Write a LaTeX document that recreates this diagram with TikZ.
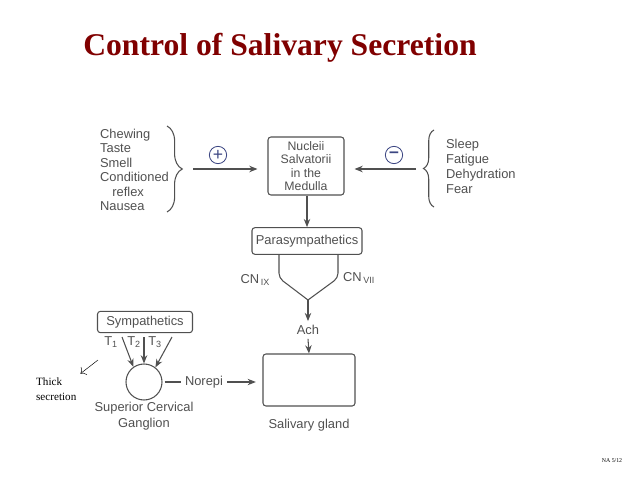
\documentclass[tikz,border=0pt]{standalone}
\usepackage{fontspec}
\setmainfont{Liberation Sans}
\newfontfamily\timesfont{Liberation Serif}
\usetikzlibrary{arrows.meta,decorations.pathreplacing,positioning}
\definecolor{scan}{RGB}{80,80,80}
\definecolor{titlered}{RGB}{128,0,0}
\definecolor{signblue}{RGB}{60,70,130}

\begin{document}
\begin{tikzpicture}[x=0.03cm, y=-0.03cm,
  every node/.style={font=\fontsize{11}{12.4}\selectfont, text=scan},
  box/.style={draw=scan, line width=0.9pt, rounded corners=2.5pt, align=center, inner sep=0pt},
  link/.style={draw=scan, line width=0.9pt, -{Stealth[length=7pt,width=5.5pt]}},
  sign/.style={draw=signblue, line width=0.7pt, circle, minimum size=0.52cm, inner sep=0pt, text=signblue, font=\fontsize{15}{15}\selectfont}]
  \useasboundingbox (0,0) rectangle (638,479);

  % title
  \node[font=\timesfont\bfseries\fontsize{27}{32}\selectfont, text=titlered] (title) at (280,48) {Control of Salivary Secretion};

  % stimuli
  \node[align=left, anchor=west] (excite) at (96,170)
    {Chewing\\Taste\\Smell\\Conditioned\\\hspace*{0.95em}reflex\\Nausea};
  \node[align=left, anchor=west, font=\fontsize{11}{12.8}\selectfont] (inhibit) at (442,166)
    {Sleep\\Fatigue\\Dehydration\\Fear};

  \draw[scan, line width=0.9pt, decorate, decoration={brace, amplitude=13pt}] (167,126) -- (167,212);
  \draw[scan, line width=0.9pt, decorate, decoration={brace, amplitude=9pt}] (434,207) -- (434,130);

  \coordinate (lbrace) at (193,169);
  \coordinate (rbrace) at (416,169);

  % nuclei
  \node[box, minimum width=2.28cm, minimum height=1.74cm, font=\fontsize{10.5}{11.6}\selectfont] (nuc) at (306,166)
    {Nucleii\\Salvatorii\\in the\\Medulla};

  \draw[link, shorten >=0.3cm] (lbrace) -- (nuc.west |- lbrace);
  \draw[link, shorten >=0.3cm] (rbrace) -- (nuc.east |- rbrace);

  \node[sign] (plus) at (218,155) {+};
  \node[sign] (minus) at (394,155) {\raisebox{-1pt}{\textbf{--}}};

  % parasympathetic path
  \node[box, minimum width=3.3cm, minimum height=0.8cm, font=\fontsize{11}{12}\selectfont] (para) at (307,241) {Parasympathetics};
  \draw[link] (nuc.south -| para) -- (para.north);

  \coordinate (cnL) at (279,278);
  \coordinate (cnR) at (338,278);
  \coordinate (merge) at (308,300);
  \draw[scan, line width=0.9pt, rounded corners=4pt] (para.south -| cnL) -- (cnL) -- (merge);
  \draw[scan, line width=0.9pt, rounded corners=4pt] (para.south -| cnR) -- (cnR) -- (merge);

  \node[anchor=east] (cn9) at (274,280) {CN\textsubscript{\,IX}};
  \node[anchor=west] (cn7) at (339,278) {CN\textsubscript{\,VII}};

  \node (ach) at (308,330) {Ach};
  \draw[link] (merge) -- (ach.north);

  % gland
  \node[box, minimum width=2.76cm, minimum height=1.56cm] (gland) at (309,380) {};
  \node (glandlbl) at (309,425) {Salivary gland};
  \draw[link] (ach.south) -- (gland.north);

  % sympathetic path
  \node[box, minimum width=2.85cm, minimum height=0.64cm] (symp) at (145,322) {Sympathetics};
  \node[circle, draw=scan, line width=0.9pt, minimum size=1.08cm, inner sep=0pt] (gang) at (144,382) {};
  \node[align=center, font=\fontsize{11}{13.5}\selectfont] (ganglbl) at (144,416) {Superior Cervical\\Ganglion};

  \node (t1) at (111,342) {T\textsubscript{1}};
  \node (t2) at (134,342) {T\textsubscript{2}};
  \node (t3) at (155,342) {T\textsubscript{3}};

  \coordinate (t1s) at (122,337);
  \coordinate (t2s) at (144,337);
  \coordinate (t3s) at (172,337);
  \draw[link] (t1s) -- (gang.125);
  \draw[link] (t2s) -- (gang.north);
  \draw[link] (t3s) -- (gang.52);

  \node (norepi) at (204,382) {Norepi};
  \draw[scan, line width=0.9pt] (gang.east) ++(2,0) coordinate (ngl) -- (norepi.west);
  \draw[link, shorten >=0.2cm] (norepi.east) -- (gland.west |- norepi);

  % note
  \node[align=left, anchor=west, font=\timesfont\fontsize{9.5}{12.5}\selectfont, text=black] (thick) at (32,389) {Thick\\secretion};
  \coordinate (thkstart) at (98,360);
  \draw[black, line width=0.4pt, -{To[length=4pt]}] (thkstart) -- (thick.north east);

  \node[font=\timesfont\fontsize{5}{6}\selectfont, text=black] (page) at (612,461) {NA 5/12};
\end{tikzpicture}
\end{document}
